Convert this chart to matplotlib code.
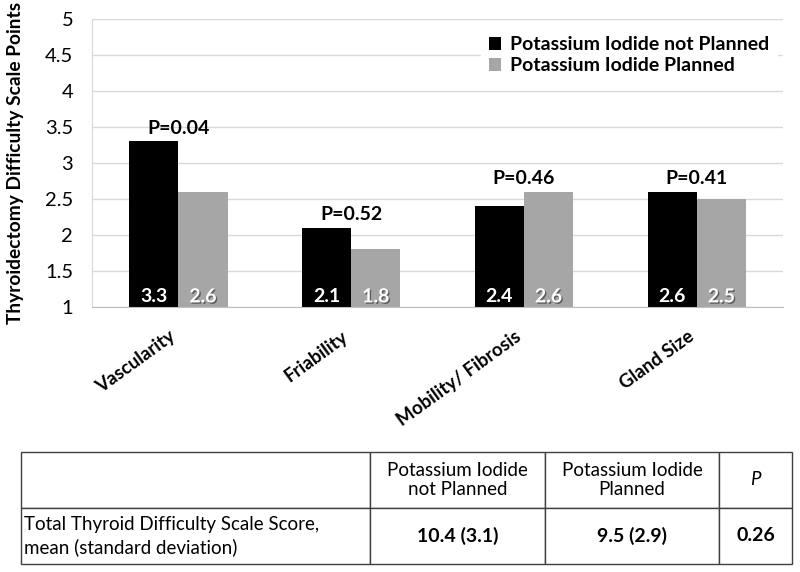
import numpy as np
import matplotlib
matplotlib.use('Agg')
import matplotlib.pyplot as plt
import matplotlib.patheffects as pe

plt.rcParams['font.family'] = ['Lato', 'DejaVu Sans']

categories = ['Vascularity', 'Friability', 'Mobility/ Fibrosis', 'Gland Size']
not_planned = [3.3, 2.1, 2.4, 2.6]
planned = [2.6, 1.8, 2.6, 2.5]
p_values = ['P=0.04', 'P=0.52', 'P=0.46', 'P=0.41']
series_names = ['Potassium Iodide not Planned', 'Potassium Iodide Planned']

table_header = ['', 'Potassium Iodide\nnot Planned', 'Potassium Iodide\nPlanned', 'P']
table_row = ['Total Thyroid Difficulty Scale Score,\nmean (standard deviation)',
             '10.4 (3.1)', '9.5 (2.9)', '0.26']

black = '#000000'
gray = '#A6A6A6'

fig = plt.figure(figsize=(8, 5.72), dpi=100)
ax = fig.add_axes([0.115, 0.4633, 0.864, 0.5035])

x = np.arange(len(categories))
w = 0.285
ax.bar(x - w / 2, np.array(not_planned) - 1, w, bottom=1, color=black,
       label=series_names[0], zorder=2)
ax.bar(x + w / 2, np.array(planned) - 1, w, bottom=1, color=gray,
       label=series_names[1], zorder=2)

ax.set_ylim(1, 5)
ax.set_xlim(-0.5, len(categories) - 0.5)
ax.set_yticks(np.arange(1, 5.01, 0.5))
ax.set_yticklabels(['1', '1.5', '2', '2.5', '3', '3.5', '4', '4.5', '5'])
ax.yaxis.grid(True, color='#D9D9D9', lw=1)
ax.set_axisbelow(True)
for s in ['top', 'right']:
    ax.spines[s].set_visible(False)
ax.spines['left'].set_color('#D9D9D9')
ax.spines['bottom'].set_color('#BFBFBF')
ax.tick_params(length=0)
ax.tick_params(axis='y', labelsize=14.5, pad=13.5)
ax.set_xticks(x)
ax.set_xticklabels(categories, rotation=36, ha='right', fontsize=13.5,
                   fontweight='bold')
ax.tick_params(axis='x', pad=15)
ax.set_ylabel('Thyroidectomy Difficulty Scale Points', fontsize=13.8,
              fontweight='bold')
ax.yaxis.set_label_coords(-0.098, 0.5)

shadow = [pe.SimplePatchShadow(offset=(1, -1), shadow_rgbFace='#404040', alpha=0.7),
          pe.Normal()]
for i in range(len(categories)):
    ax.text(x[i] - w / 2, 1.14, f'{not_planned[i]:.1f}', color='white',
            ha='center', va='center', fontsize=14, fontweight='bold')
    ax.text(x[i] + w / 2, 1.14, f'{planned[i]:.1f}', color='white',
            ha='center', va='center', fontsize=14, fontweight='bold',
            path_effects=shadow)
    top = max(not_planned[i], planned[i])
    ax.text(x[i], top + 0.06, p_values[i], ha='center', va='bottom',
            fontsize=14, fontweight='bold')

leg = ax.legend(loc='upper right', bbox_to_anchor=(1.005, 1.0), frameon=True,
                fancybox=False, edgecolor='white', framealpha=1,
                handlelength=0.65, handleheight=0.65, handletextpad=0.45,
                labelspacing=0.2, prop={'size': 14, 'weight': 'bold'})

# table below the chart
tax = fig.add_axes([0.02625, 0.014, 0.96375, 0.1958])
tax.axis('off')
col_w = [0.4527, 0.2269, 0.2257, 0.0947]
tbl = tax.table(cellText=[table_row], colLabels=table_header, colWidths=col_w,
                bbox=[0, 0, 1, 1], cellLoc='center')
tbl.auto_set_font_size(False)
for (r, c), cell in tbl.get_celld().items():
    cell.set_edgecolor('#404040')
    cell.set_linewidth(1)
    t = cell.get_text()
    t.set_fontsize(13.5)
    if r == 0 and c == 3:
        t.set_fontstyle('italic')
    if r == 1 and c > 0:
        t.set_fontweight('bold')
        t.set_fontsize(14)
    if r == 1 and c == 0:
        cell.set_text_props(ha='left')
        cell.PAD = 0.008
        t.set_linespacing(1.3)

fig.savefig('out.png', dpi=100)
